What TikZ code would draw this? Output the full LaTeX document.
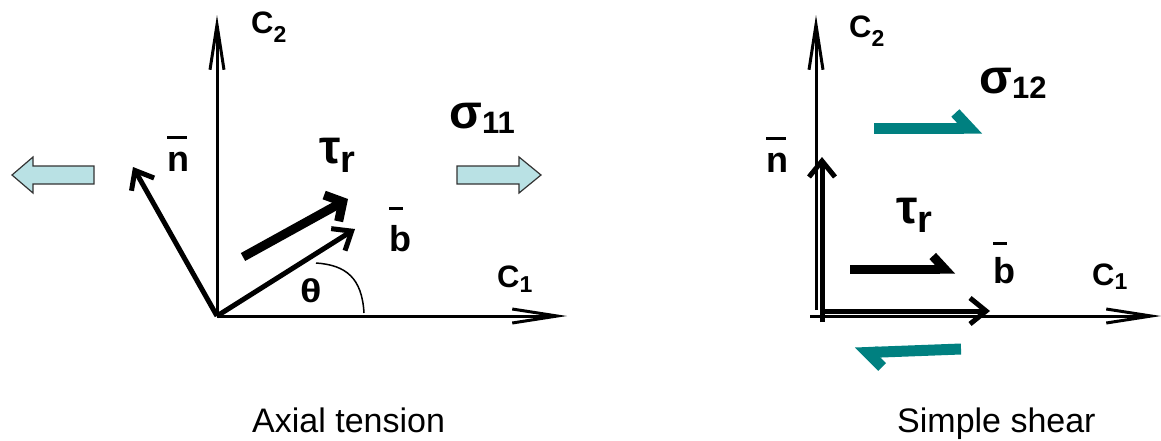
\documentclass[tikz,border=0pt]{standalone}
\usepackage{fontspec}
\usepackage{graphicx}
\setmainfont{Liberation Sans}
\usetikzlibrary{arrows.meta}
\definecolor{tealc}{RGB}{0,128,128}
\definecolor{icyblue}{RGB}{185,225,228}
\newcommand\Sz[2]{{\fontsize{#1pt}{#1pt}\selectfont #2}}
\newcommand\Ovl[3]{\rlap{\raisebox{#2pt}{\rule{#3pt}{3.5pt}}}#1}
\tikzset{
  lab/.style={anchor=base west, inner sep=0pt, font=\bfseries},
  capt/.style={anchor=base west, inner sep=0pt, font=\fontsize{34pt}{34pt}\selectfont},
  axisline/.style={line width=3pt, -{Straight Barb[length=45pt,width=14pt]}},
  vec/.style={line width=5pt, -{Straight Barb[length=16pt,width=26pt]}},
  force/.style={line width=9pt, -{Straight Barb[length=13pt,width=30pt]}},
  harp/.style={line width=9pt, -{Straight Barb[harpoon,length=12pt,width=26pt]}},
  shear/.style={draw=tealc, line width=11pt, -{Straight Barb[harpoon,length=14pt,width=30pt]}},
  block/.style={fill=icyblue, draw=black!80, line width=1.2pt},
  thinline/.style={line width=1.5pt}
}
\begin{document}
\begin{tikzpicture}[x=1pt,y=-1pt]
\useasboundingbox (0,0) rectangle (1161,440);
% ---------- Axial tension ----------
\coordinate (O) at (217,316);
\coordinate (c2top) at (217,15);
\coordinate (c1end) at (567,316);
\coordinate (ntip) at (133,167);
\coordinate (btip) at (355,229);
\coordinate (tauS) at (243,257);
\coordinate (tauE) at (348,199);
\coordinate (arcS) at (316,263);
\coordinate (arcE) at (364,313);
\draw[axisline] (O) -- (c2top);
\draw[axisline] (O) -- (c1end);
\draw[vec] (O) -- (ntip);
\draw[vec] (O) -- (btip);
\draw[force] (tauS) -- (tauE);
\draw[thinline] (arcS) .. controls (346,265) and (362,278) .. (arcE);
\draw[block] (94,166) -- (33,166) -- (33,157) -- (12,175) -- (33,193) -- (33,184) -- (94,184) -- cycle;
\draw[block] (457,166) -- (519,166) -- (519,157) -- (541,175) -- (519,193) -- (519,184) -- (457,184) -- cycle;
\node[lab] (lC2) at (251,33) {\Sz{31}{C}\raisebox{-9pt}{\Sz{23}{2}}};
\node[lab] (lC1) at (497,287) {\Sz{31}{C}\raisebox{-5pt}{\Sz{23}{1}}};
\node[lab] (ln) at (167,171) {\Sz{36}{\Ovl{n}{32}{20}}};
\node[lab] (lb) at (389,251) {\Sz{36}{\Ovl{b}{41}{14}}};
\node[lab] (ltau) at (319,163) {\Sz{48}{τ}\raisebox{-9pt}{\Sz{38}{r}}};
\node[lab] (lsig) at (449,128) {\Sz{48}{σ}\raisebox{-5pt}{\Sz{31}{11}}};
\node[lab] (lth) at (300,302) {\Sz{33}{\scalebox{1.2}[1]{θ}}};
\node[capt] (cap1) at (252,432) {Axial tension};
% ---------- Simple shear ----------
\coordinate (P) at (822,322);
\coordinate (Pa) at (816,310);
\coordinate (c2topR) at (816,15);
\coordinate (c1sR) at (810,316);
\coordinate (c1eR) at (1161,316);
\coordinate (ntipR) at (822,157);
\coordinate (bsR) at (820,311);
\coordinate (btipR) at (990,311);
\coordinate (tauSR) at (850,269);
\coordinate (tauER) at (955,269);
\coordinate (shTS) at (874,128);
\coordinate (shTE) at (982,128);
\coordinate (shBS) at (961,349);
\coordinate (shBE) at (855,353);
\draw[axisline] (Pa) -- (c2topR);
\draw[axisline] (c1sR) -- (c1eR);
\draw[vec] (P) -- (ntipR);
\draw[vec] (bsR) -- (btipR);
\draw[harp] (tauSR) -- (tauER);
\draw[shear] (shTS) -- (shTE);
\draw[shear] (shBS) -- (shBE);
\node[lab] (rC2) at (849,37) {\Sz{31}{C}\raisebox{-9pt}{\Sz{23}{2}}};
\node[lab] (rC1) at (1092,285) {\Sz{31}{C}\raisebox{-4pt}{\Sz{23}{1}}};
\node[lab] (rn) at (766,172) {\Sz{36}{\Ovl{n}{32}{20}}};
\node[lab] (rb) at (993,283) {\Sz{36}{\Ovl{b}{38}{14}}};
\node[lab] (rtau) at (896,223) {\Sz{48}{τ}\raisebox{-9pt}{\Sz{38}{r}}};
\node[lab] (rsig) at (979,93) {\Sz{48}{σ}\raisebox{-5pt}{\Sz{31}{12}}};
\node[capt] (cap2) at (897,432) {Simple shear};
\end{tikzpicture}
\end{document}
